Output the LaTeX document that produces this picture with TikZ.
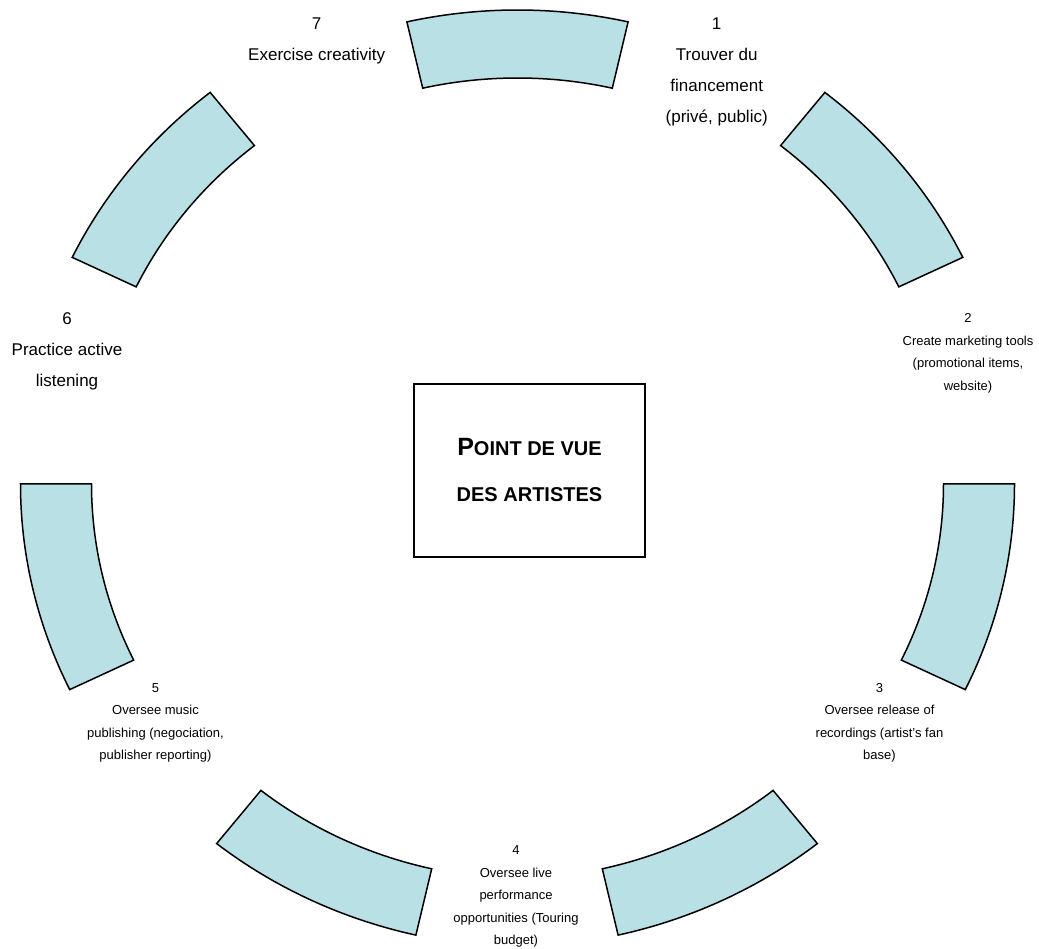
\documentclass[tikz,border=0pt]{standalone}
\usepackage{fontspec}
\setmainfont{Liberation Sans}
\definecolor{segfill}{RGB}{185,224,228}
\begin{document}
\begin{tikzpicture}[x=1pt,y=1pt,
  seg/.style={fill=segfill, draw=black, line width=1.5pt, line join=miter},
  big/.style={font=\fontsize{17}{31}\selectfont, align=center, inner sep=0pt},
  small/.style={font=\fontsize{13}{22.5}\selectfont, align=center, inner sep=0pt},
  centerbox/.style={draw=black, line width=1.3pt, minimum width=231pt, minimum height=173pt,
    align=center, font=\bfseries\fontsize{20}{46}\selectfont}]
\useasboundingbox (0,0) rectangle (1039,949);
\fill[white] (0,0) rectangle (1039,949);

% ring segments (outer 497x474, inner 426x406), centre at (517.5,465)
\begin{scope}[shift={(517.5,465)}]
\foreach \a/\b/\dx/\dy in {77.14/102.86/0/0, 25.71/51.43/-2.5/21, -25.71/0/0/0,
  -77.14/-51.43/-10/11, -128.57/-102.86/9/11, 180/205.71/0/0, 128.57/154.29/2.5/21}{
  \draw[seg, shift={(\dx,\dy)}] (\a:497 and 474)
    arc[start angle=\a, end angle=\b, x radius=497, y radius=474]
    -- (\b:426 and 406)
    arc[start angle=\b, end angle=\a, x radius=426, y radius=406] -- cycle;
}
\end{scope}

% centre box
\node[centerbox] (centre) at (529.5,478.5)
  {{\fontsize{25}{46}\selectfont P}OINT DE VUE\\DES ARTISTES};

% labels
\node[big] (l1) at (716.7,877.4) {1\\Trouver du\\financement\\(privé, public)};
\node[small] (l2) at (968,595.5) {2\\Create marketing tools\\(promotional items,\\website)};
\node[small] (l3) at (879.5,226) {3\\Oversee release of\\recordings (artist’s fan\\base)};
\node[small] (l4) at (516,52.6) {4\\Oversee live\\performance\\opportunities (Touring\\budget)};
\node[small] (l5) at (155.5,226) {5\\Oversee music\\publishing (negociation,\\publisher reporting)};
\node[big] (l6) at (67,598) {6\\Practice active\\listening};
\node[big] (l7) at (316.7,907.8) {7\\Exercise creativity};
\end{tikzpicture}
\end{document}
